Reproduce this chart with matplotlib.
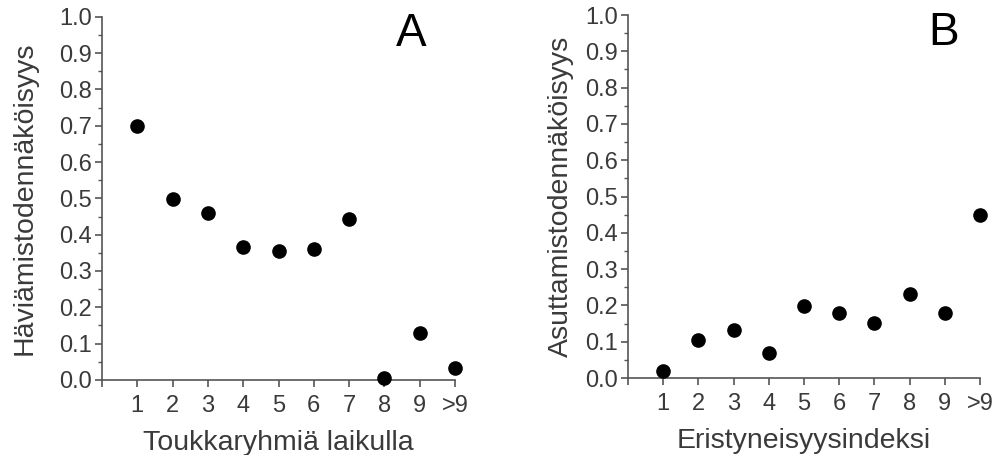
import matplotlib.pyplot as plt
import numpy as np
from matplotlib.ticker import MultipleLocator, FormatStrFormatter

plt.rcParams['font.family'] = ['Liberation Sans', 'DejaVu Sans']

# x categories (positions 1..10, last one is ">9")
categories = ["1", "2", "3", "4", "5", "6", "7", "8", "9", ">9"]
x_pos = np.arange(1, len(categories) + 1)

# panel A: disappearance probability vs larval groups per patch
haviamis = [0.70, 0.497, 0.46, 0.365, 0.355, 0.36, 0.442, 0.005, 0.13, 0.032]
# panel B: colonisation probability vs isolation index
asuttamis = [0.02, 0.105, 0.132, 0.07, 0.198, 0.18, 0.152, 0.232, 0.178, 0.45]

axis_col = "#555555"
text_col = "#3a3a3a"

fig = plt.figure(figsize=(9.95, 4.55), dpi=100)
axA = fig.add_axes([0.1025, 0.165, 0.3548, 0.798])
axB = fig.add_axes([0.631, 0.169, 0.354, 0.798])

panels = [
    (axA, haviamis, "Häviämistodennäköisyys", "Toukkaryhmiä laikulla", "A", 16, 0.875),
    (axB, asuttamis, "Asuttamistodennäköisyys", "Eristyneisyysindeksi", "B", 8, 0.895),
]

for ax, vals, ylab, xlab, letter, ypad, lx in panels:
    ax.plot(x_pos, vals, "o", color="black", markersize=9.5, clip_on=False, zorder=5)
    ax.set_xlim(0, 10)
    ax.set_ylim(0, 1.0)
    ax.set_xticks(np.arange(0, 11))
    ax.set_xticklabels([""] + categories)
    ax.set_yticks(np.arange(0, 1.01, 0.1))
    ax.yaxis.set_major_formatter(FormatStrFormatter("%.1f"))
    ax.yaxis.set_minor_locator(MultipleLocator(0.05))
    for s in ["top", "right"]:
        ax.spines[s].set_visible(False)
    for s in ["left", "bottom"]:
        ax.spines[s].set_color(axis_col)
        ax.spines[s].set_linewidth(1.2)
    ax.tick_params(axis="both", which="major", direction="out", length=5,
                   width=1.2, color=axis_col, labelcolor=text_col, labelsize=17)
    ax.tick_params(axis="x", pad=6)
    ax.tick_params(axis="y", pad=2)
    ax.tick_params(axis="y", which="minor", direction="out", length=3,
                   width=1.0, color=axis_col)
    ax.set_xlabel(xlab, fontsize=20.5, color=text_col, labelpad=9)
    ax.set_ylabel(ylab, fontsize=20.5, color=text_col, labelpad=ypad)
    ax.text(lx, 1.012, letter, transform=ax.transAxes, fontsize=33,
            color="black", ha="center", va="top")

fig.savefig("out.png", dpi=100)
